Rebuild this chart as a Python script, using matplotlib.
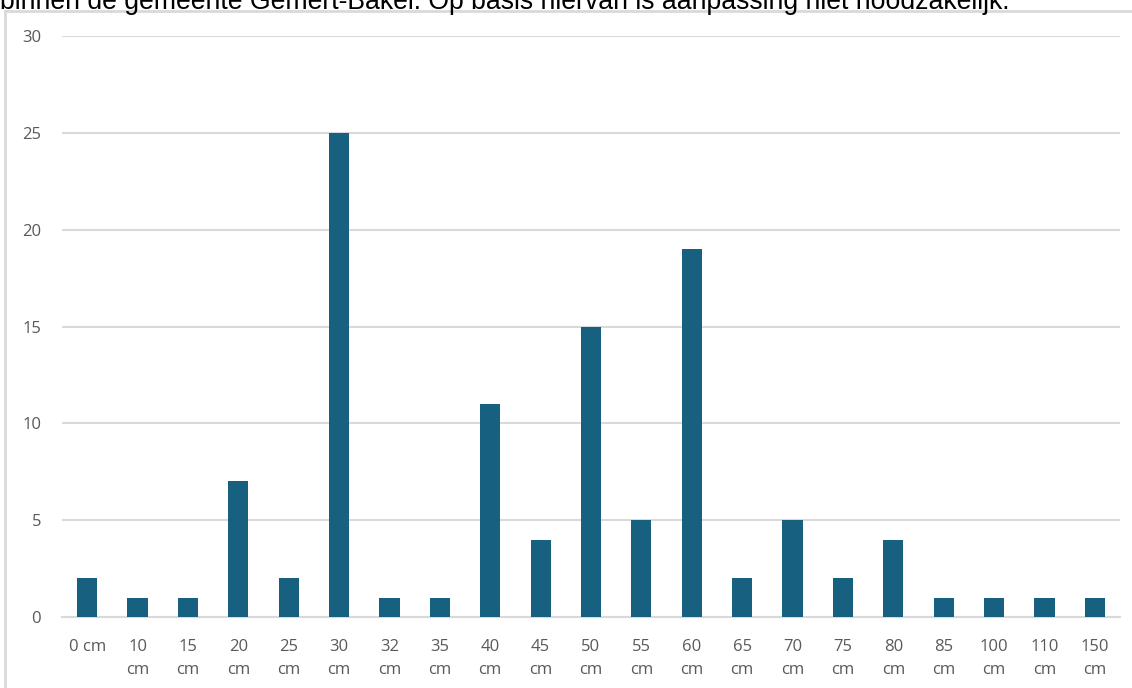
import matplotlib.pyplot as plt
from matplotlib.lines import Line2D

# Data
labels = ['0 cm', '10\ncm', '15\ncm', '20\ncm', '25\ncm', '30\ncm', '32\ncm', '35\ncm',
          '40\ncm', '45\ncm', '50\ncm', '55\ncm', '60\ncm', '65\ncm', '70\ncm', '75\ncm',
          '80\ncm', '85\ncm', '100\ncm', '110\ncm', '150\ncm']
values = [2, 1, 1, 7, 2, 25, 1, 1, 11, 4, 15, 5, 19, 2, 5, 2, 4, 1, 1, 1, 1]
yticks = [0, 5, 10, 15, 20, 25, 30]
caption = 'binnen de gemeente Gemert-Bakel. Op basis hiervan is aanpassing niet noodzakelijk.'

W, H = 1132, 688
fig = plt.figure(figsize=(W / 100, H / 100), dpi=100)
ax = fig.add_axes([62 / W, 71 / H, (1120 - 62) / W, (617 - 36) / H])

x = range(len(values))
ax.bar(x, values, width=0.4, color='#17607f', zorder=3)

ax.set_xlim(-0.5, len(values) - 0.5)
ax.set_ylim(0, 30)
ax.set_yticks(yticks)
ax.set_xticks(list(x))
ax.set_xticklabels(labels, linespacing=1.6)
for lab in ax.get_xticklabels() + ax.get_yticklabels():
    lab.set_family('Open Sans')
ax.grid(axis='y', color='#d9d9d9', linewidth=1.5, zorder=0)
for s in ['top', 'right', 'left']:
    ax.spines[s].set_visible(False)
ax.spines['bottom'].set_color('#d9d9d9')
ax.spines['bottom'].set_linewidth(1.5)
ax.tick_params(axis='both', length=0, labelsize=12, labelcolor='#595959')
ax.tick_params(axis='y', pad=15)
ax.tick_params(axis='x', pad=16)

# outer chart border (partially visible)
fig.add_artist(Line2D([5 / W, 5 / W], [0, 1 - 11 / H], color='#d9d9d9', linewidth=2))
fig.add_artist(Line2D([5 / W, 1], [1 - 11 / H, 1 - 11 / H], color='#d9d9d9', linewidth=2))

# clipped caption text above the chart
fig.text(0.0, 1 - 9 / H, caption, fontsize=19.2, family='Liberation Sans',
         color='black', va='baseline', ha='left')

fig.savefig('out.png', dpi=100)
